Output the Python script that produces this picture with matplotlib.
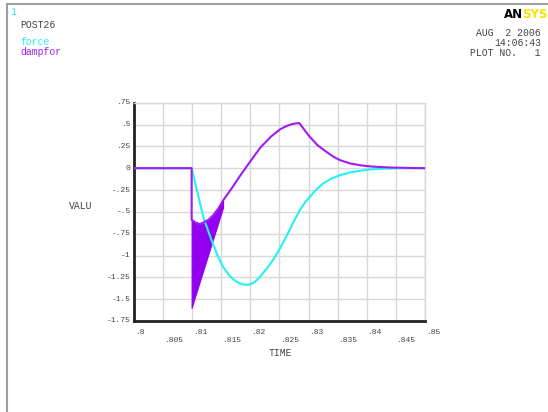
import matplotlib
matplotlib.use("Agg")
import matplotlib.pyplot as plt
from matplotlib.lines import Line2D

# ---- data ----
force_t = [0.800, 0.8099, 0.8108, 0.8120, 0.8133, 0.8143, 0.8153, 0.8163, 0.8171,
           0.8180, 0.8188, 0.8194, 0.8200, 0.8208, 0.8217, 0.8228, 0.8239, 0.8250,
           0.8262, 0.8273, 0.8285, 0.8294, 0.8302, 0.8313, 0.8325, 0.8339, 0.8354,
           0.8370, 0.8388, 0.8405, 0.8430, 0.8460, 0.8500]
force_v = [0.0, 0.0, -0.25, -0.58, -0.82, -0.99, -1.13, -1.22, -1.275,
           -1.315, -1.332, -1.335, -1.33, -1.30, -1.24, -1.15, -1.05, -0.93,
           -0.78, -0.63, -0.48, -0.39, -0.33, -0.245, -0.175, -0.12, -0.08,
           -0.05, -0.03, -0.015, -0.005, 0.0, 0.0]

damp_t = [0.800, 0.8099, 0.8099, 0.8105, 0.8113, 0.8120, 0.8128, 0.8136, 0.8145,
          0.8153, 0.8170, 0.8182, 0.8199, 0.8217, 0.8235, 0.8251, 0.8262, 0.8270,
          0.8277, 0.8284, 0.8291, 0.8300, 0.8315, 0.8331, 0.8343, 0.8354, 0.8371,
          0.8390, 0.8410, 0.8440, 0.8480, 0.8500]
damp_v = [0.0, 0.0, -0.59, -0.62, -0.64, -0.62, -0.59, -0.54, -0.46,
          -0.37, -0.21, -0.09, 0.07, 0.235, 0.36, 0.445, 0.483, 0.502,
          0.512, 0.517, 0.455, 0.375, 0.265, 0.185, 0.13, 0.092, 0.055,
          0.032, 0.018, 0.008, 0.002, 0.0]

# envelope of the dense oscillation band of dampfor
band_t = [0.8099, 0.8105, 0.8113, 0.8120, 0.8128, 0.8136, 0.8145, 0.8153]
band_upper = [-0.59, -0.62, -0.64, -0.62, -0.59, -0.54, -0.46, -0.37]
band_lower = [-1.60, -1.47, -1.30, -1.15, -0.98, -0.81, -0.62, -0.45]

x_ticks = [0.800, 0.805, 0.810, 0.815, 0.820, 0.825, 0.830, 0.835, 0.840, 0.845, 0.850]
x_labels = ['.8', '.805', '.81', '.815', '.82', '.825', '.83', '.835', '.84', '.845', '.85']
y_ticks = [0.75, 0.5, 0.25, 0, -0.25, -0.5, -0.75, -1, -1.25, -1.5, -1.75]
y_labels = ['.75', '.5', '.25', '0', '-.25', '-.5', '-.75', '-1', '-1.25', '-1.5', '-1.75']

CYAN = '#22F2F2'
PURPLE = '#A21CF2'
BAND = '#9300F0'
MONO = 'Liberation Mono'
GREY_TXT = '#444444'

W, H = 548, 412
fig = plt.figure(figsize=(W / 100, H / 100), dpi=100)
fig.patch.set_facecolor('white')

def fx(px):
    return px / W

def fy(py):
    return 1 - py / H

ax = fig.add_axes([fx(134), fy(321), fx(425) - fx(134), fy(102.7) - fy(321)])
ax.set_xlim(0.800, 0.850)
ax.set_ylim(-1.75, 0.75)

ax.fill_between(band_t, band_lower, band_upper, color=BAND, linewidth=0.8,
                edgecolor=BAND, zorder=2)
ax.plot(force_t, force_v, color=CYAN, lw=1.5, zorder=3, solid_joinstyle='round')
ax.plot(damp_t, damp_v, color=PURPLE, lw=1.5, zorder=4, solid_joinstyle='round')

ax.set_xticks(x_ticks)
ax.set_yticks(y_ticks)
ax.set_xticklabels([])
ax.set_yticklabels([])
ax.tick_params(length=0)
ax.grid(True, color='#D8D8D8', lw=1.0, zorder=0)
ax.set_axisbelow(True)
for s in ['top', 'right']:
    ax.spines[s].set_color('#D8D8D8')
    ax.spines[s].set_linewidth(1.0)
for s in ['left', 'bottom']:
    ax.spines[s].set_color('#222222')
    ax.spines[s].set_linewidth(2.0)

# tick labels (ANSYS style: x labels left-aligned, staggered)
for i, (t, lab) in enumerate(zip(x_ticks, x_labels)):
    yoff = -8.6 if i % 2 == 0 else -14.4
    ax.annotate(lab, xy=(t, -1.75), xycoords='data', xytext=(0.5, yoff),
                textcoords='offset points', ha='left', va='center',
                fontsize=5.8, family=MONO, color=GREY_TXT)
for v, lab in zip(y_ticks, y_labels):
    ax.annotate(lab, xy=(0.800, v), xycoords='data', xytext=(-2.5, 0),
                textcoords='offset points', ha='right', va='center',
                fontsize=5.8, family=MONO, color=GREY_TXT)

fig.text(fx(280), fy(353), 'TIME', ha='center', va='center', fontsize=7,
         family=MONO, color=GREY_TXT)
fig.text(fx(81), fy(206), 'VALU', ha='center', va='center', fontsize=7,
         family=MONO, color=GREY_TXT)

# header texts
fig.text(fx(10), fy(12), '1', ha='left', va='center', fontsize=7, family=MONO, color=CYAN)
fig.text(fx(20), fy(25), 'POST26', ha='left', va='center', fontsize=7, family=MONO, color=GREY_TXT)
fig.text(fx(20), fy(42), 'force', ha='left', va='center', fontsize=7, family=MONO, color=CYAN)
fig.text(fx(20), fy(52), 'dampfor', ha='left', va='center', fontsize=7, family=MONO, color=PURPLE)

fig.text(fx(541), fy(33), 'AUG  2 2006', ha='right', va='center', fontsize=7, family=MONO, color=GREY_TXT)
fig.text(fx(541), fy(43), '14:06:43', ha='right', va='center', fontsize=7, family=MONO, color=GREY_TXT)
fig.text(fx(541), fy(53), 'PLOT NO.   1', ha='right', va='center', fontsize=7, family=MONO, color=GREY_TXT)

fig.text(fx(504), fy(15), 'AN', ha='left', va='center', fontsize=8.5, fontweight='bold',
         family='DejaVu Sans', color='black')
fig.text(fx(522), fy(15), 'SYS', ha='left', va='center', fontsize=8.5, fontweight='bold',
         family='DejaVu Sans', color='#FFE000')

# outer frame
fig.add_artist(Line2D([fx(7), fx(548)], [fy(4), fy(4)], color='#A0A0A0', lw=1.5))
fig.add_artist(Line2D([fx(7), fx(7)], [fy(4), fy(412)], color='#A0A0A0', lw=1.5))

fig.savefig('out.png', dpi=100, facecolor='white')
